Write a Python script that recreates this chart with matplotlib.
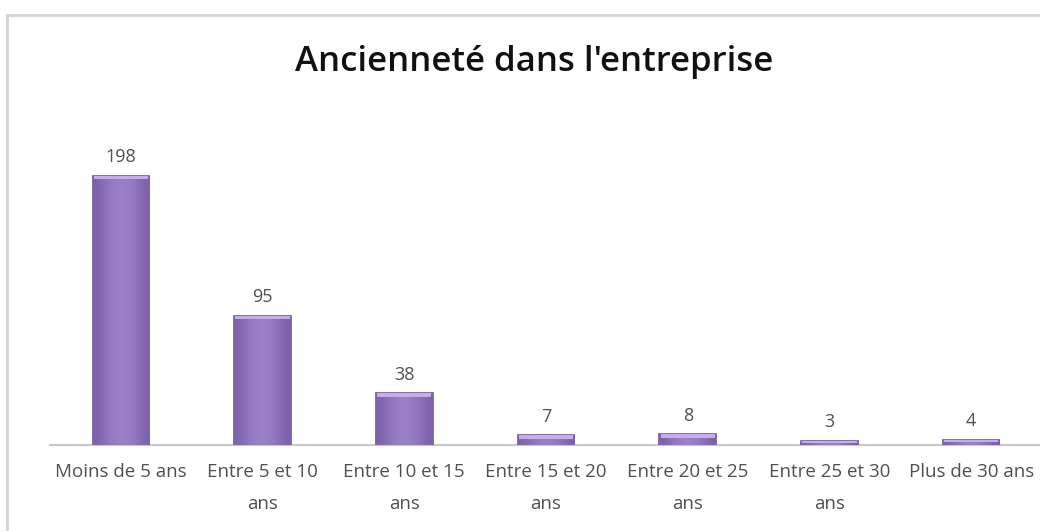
import numpy as np
import matplotlib
matplotlib.use("Agg")
import matplotlib.pyplot as plt
from matplotlib.patches import Rectangle

categories = ["Moins de 5 ans", "Entre 5 et 10\nans", "Entre 10 et 15\nans",
              "Entre 15 et 20\nans", "Entre 20 et 25\nans", "Entre 25 et 30\nans",
              "Plus de 30 ans"]
values = [198, 95, 38, 7, 8, 3, 4]
title = "Ancienneté dans l'entreprise"

plt.rcParams['font.family'] = ['Open Sans', 'DejaVu Sans']

fig = plt.figure(figsize=(10.4, 5.31), dpi=100)
fig.patch.set_facecolor('white')

# outer chart frame (partly cut off at right/bottom)
fig.add_artist(Rectangle((7 / 1040, -0.05), 1.1, (531 - 15) / 531 + 0.05,
                         transform=fig.transFigure, fill=False,
                         edgecolor='#d4d4d4', lw=2))

ax = fig.add_axes([50 / 1040, (531 - 445) / 531, 992 / 1040, 0.589])
x = np.arange(len(values))
bars = ax.bar(x, values, width=0.4, color='#9b7fc6', edgecolor='#6e5596', lw=1.2, zorder=3)

# horizontal shading + lighter top edge, like the original 3D-ish bars
grad = np.array([[0.0, 0.35, 0.6, 0.7, 0.6, 0.35, 0.0]])
cmap = matplotlib.colors.LinearSegmentedColormap.from_list('p', ['#7d62ab', '#a88ed3'])
for b in bars:
    x0, w, h = b.get_x(), b.get_width(), b.get_height()
    im = ax.imshow(grad, extent=(x0, x0 + w, 0, h), aspect='auto', cmap=cmap,
                   vmin=0, vmax=1, zorder=3.5, interpolation='bicubic')
    im.set_clip_path(b)
    cap = min(2.5, h * 0.5)
    ax.bar(b.get_x() + w / 2, cap, bottom=h - cap, width=w * 0.96, color='#c3adeb',
           lw=0, zorder=4)

for xi, v in zip(x, values):
    ax.text(xi, v + 7, str(v), ha='center', va='bottom', fontsize=13, color='#505050')

ax.set_xlim(-0.5, 6.5)
ax.set_ylim(0, 230)
ax.set_xticks(x)
ax.set_xticklabels(categories, fontsize=13.5, color='#505050', linespacing=2.0, va='top')
ax.tick_params(axis='x', length=0, pad=13)
ax.set_yticks([])
for s in ['top', 'right', 'left']:
    ax.spines[s].set_visible(False)
ax.spines['bottom'].set_color('#c8c8c8')
ax.spines['bottom'].set_linewidth(1.5)
ax.set_facecolor('none')

fig.text(534 / 1040, 1 - 62 / 531, title, ha='center', va='center',
         fontsize=25, fontweight='semibold', color='#111111')

fig.savefig("out.png", dpi=100)
